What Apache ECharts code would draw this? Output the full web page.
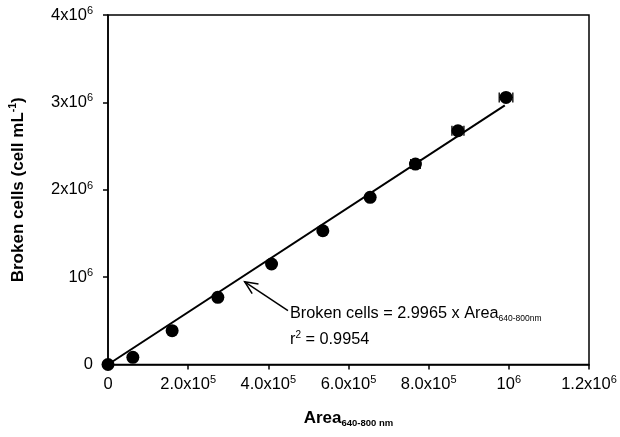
<!DOCTYPE html>
<html><head><meta charset="utf-8">
<script src="https://cdn.jsdelivr.net/npm/echarts@6/dist/echarts.min.js"></script>
<style>html,body{margin:0;padding:0;background:#fff}#c{width:620px;height:437px}</style>
</head><body><div id="c"></div>
<script>
// ---- data ----
const areaX       = [0, 62000, 160000, 274000, 408000, 536000, 654000, 767000, 873000, 993000];
const brokenCells = [0, 82000, 387000, 769000, 1150000, 1531000, 1913000, 2294000, 2675000, 3057000];
const areaErr     = [0, 0, 0, 0, 0, 0, 0, 12000, 15000, 17000];
const fitSlope = 2.9965;
const fitXRange = [0, 990000];
const xTickLabels = ['0', '2.0x10^5', '4.0x10^5', '6.0x10^5', '8.0x10^5', '10^6', '1.2x10^6'];
const yTickLabels = ['0', '10^6', '2x10^6', '3x10^6', '4x10^6'];
const equationMain = 'Broken cells = 2.9965 x Area';
const equationSub = '640-800nm';
const r2Value = '0.9954';
const arrowHead = [341000, 947000];
const arrowTail = [449000, 618000];

const FONT = 'Liberation Sans, Arial, sans-serif';
function tickFmt(s) {
  const i = s.indexOf('^');
  if (i < 0) return '{n|' + s + '}';
  return '{n|' + s.slice(0, i) + '}{s|' + s.slice(i + 1) + '}';
}
const tickRich = {
  n: {fontSize: 16.5, fontFamily: FONT, color: '#000', lineHeight: 19},
  s: {fontSize: 11, fontFamily: FONT, color: '#000', lineHeight: 11, verticalAlign: 'top'}
};

const chart = echarts.init(document.getElementById('c'), null, {renderer: 'canvas'});
const points = areaX.map((x, i) => [x, brokenCells[i]]);
const errData = areaX.map((x, i) => [x, brokenCells[i], areaErr[i]]);
const fitData = fitXRange.map(x => [x, x * fitSlope]);

chart.setOption({
  animation: false,
  backgroundColor: '#fff',
  grid: {left: 104, right: 31, top: 15, bottom: 72.5, show: true, borderColor: '#000', borderWidth: 1.5, containLabel: false},
  xAxis: {
    type: 'value', min: 0, max: 1200000, interval: 200000,
    splitLine: {show: false},
    axisLine: {lineStyle: {color: '#000', width: 1.5}},
    axisTick: {inside: false, length: 5, lineStyle: {color: '#000', width: 1.5}},
    axisLabel: {margin: 10, formatter: (v, idx) => tickFmt(xTickLabels[idx]), rich: tickRich},
    name: '{b|Area}{sub|640-800 nm}',
    nameLocation: 'middle', nameGap: 44,
    nameTextStyle: {rich: {
      b: {fontSize: 17, fontWeight: 'bold', fontFamily: FONT, color: '#000', lineHeight: 20},
      sub: {fontSize: 9.5, fontWeight: 'bold', fontFamily: FONT, color: '#000', lineHeight: 9, verticalAlign: 'bottom'}
    }}
  },
  yAxis: {
    type: 'value', min: 0, max: 4000000, interval: 1000000,
    splitLine: {show: false},
    axisLine: {lineStyle: {color: '#000', width: 1.5}},
    axisTick: {inside: false, length: 5, lineStyle: {color: '#000', width: 1.5}},
    axisLabel: {margin: 15, formatter: (v, idx) => tickFmt(yTickLabels[idx]), rich: tickRich},
    name: '{b|Broken cells (cell mL}{sup|-1}{b|)}',
    nameLocation: 'middle', nameGap: 80,
    nameTextStyle: {rich: {
      b: {fontSize: 17, fontWeight: 'bold', fontFamily: FONT, color: '#000', lineHeight: 20},
      sup: {fontSize: 10.5, fontWeight: 'bold', fontFamily: FONT, color: '#000', lineHeight: 10, verticalAlign: 'top'}
    }}
  },
  series: [
    {
      type: 'line', data: fitData, showSymbol: false, symbol: 'none',
      lineStyle: {color: '#000', width: 2}, z: 2
    },
    {
      type: 'custom', data: errData, z: 3,
      renderItem: function (params, api) {
        const e = api.value(2);
        if (!e) return null;
        const x = api.value(0), y = api.value(1);
        const a = api.coord([x - e, y]), b = api.coord([x + e, y]);
        const st = {stroke: '#000', lineWidth: 1.3, fill: null};
        return {type: 'group', children: [
          {type: 'line', shape: {x1: a[0], y1: a[1], x2: b[0], y2: b[1]}, style: st},
          {type: 'line', shape: {x1: a[0], y1: a[1] - 5, x2: a[0], y2: a[1] + 5}, style: st},
          {type: 'line', shape: {x1: b[0], y1: b[1] - 5, x2: b[0], y2: b[1] + 5}, style: st}
        ]};
      }
    },
    {
      type: 'scatter', data: points, symbol: 'circle', symbolSize: 13,
      itemStyle: {color: '#000', opacity: 1}, z: 4
    },
    {
      type: 'custom', data: [[arrowHead[0], arrowHead[1], arrowTail[0], arrowTail[1]]], z: 5,
      renderItem: function (params, api) {
        const h = api.coord([api.value(0), api.value(1)]);
        const t = api.coord([api.value(2), api.value(3)]);
        const ang = Math.atan2(t[1] - h[1], t[0] - h[0]);
        const L = 14, w = 0.42;
        const p1 = [h[0] + L * Math.cos(ang + w), h[1] + L * Math.sin(ang + w)];
        const p2 = [h[0] + L * Math.cos(ang - w), h[1] + L * Math.sin(ang - w)];
        const st = {stroke: '#000', lineWidth: 1.5, fill: null};
        const rich = {
          m: {fontSize: 16.3, fontFamily: FONT, color: '#000', lineHeight: 19},
          sub: {fontSize: 8.5, fontFamily: FONT, color: '#000', lineHeight: 9, verticalAlign: 'bottom'},
          sup: {fontSize: 10, fontFamily: FONT, color: '#000', lineHeight: 10, verticalAlign: 'top'}
        };
        return {type: 'group', children: [
          {type: 'line', shape: {x1: h[0], y1: h[1], x2: t[0], y2: t[1]}, style: st},
          {type: 'polyline', shape: {points: [p1, h, p2]}, style: st},
          {type: 'text', x: t[0] + 2, y: t[1] + 3, style: {
            text: '{m|' + equationMain + '}{sub|' + equationSub + '}', rich: rich,
            verticalAlign: 'middle', align: 'left'}},
          {type: 'text', x: t[0] + 2, y: t[1] + 29, style: {
            text: '{m|r}{sup|2}{m| = ' + r2Value + '}', rich: rich,
            verticalAlign: 'middle', align: 'left'}}
        ]};
      }
    }
  ]
});
</script></body></html>
